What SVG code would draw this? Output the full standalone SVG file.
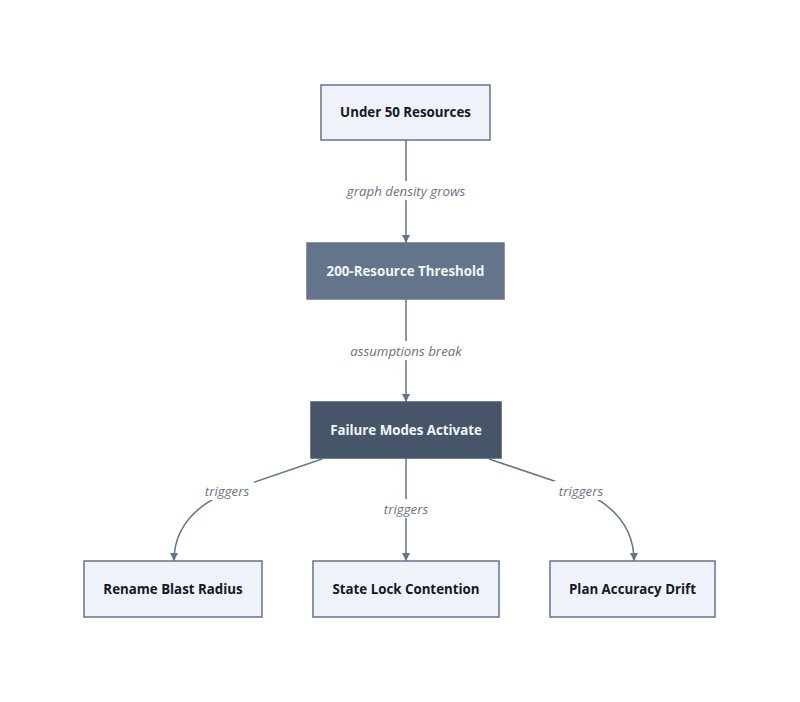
<svg xmlns="http://www.w3.org/2000/svg" width="800" height="702" viewBox="0 0 800 702">
<style>
.light rect{fill:#eff3f9;stroke:#64748b;stroke-width:1.5}
.mid rect{fill:#64748b;stroke:#64748b;stroke-width:1.5}
.dark rect{fill:#475569;stroke:#475569;stroke-width:1.5}
.node text{font-family:"Open Sans","DejaVu Sans",sans-serif;font-size:13.3px;font-weight:bold;text-anchor:middle;dominant-baseline:central}
.light text{fill:#111827}
.mid text,.dark text{fill:#f1f5f9}
.edge{fill:none;stroke:#64748b;stroke-width:1.5;marker-end:url(#ah)}
.lbl rect{fill:#ffffff}
.lbl text{font-family:"Open Sans","DejaVu Sans",sans-serif;font-size:13.3px;font-style:italic;fill:#6b7280;text-anchor:middle;dominant-baseline:central}
</style>
<defs>
<marker id="ah" viewBox="0 0 10 10" refX="10" refY="5" markerWidth="8" markerHeight="8" markerUnits="userSpaceOnUse" orient="auto">
<path d="M0,0 L10,5 L0,10 z" fill="#64748b"/>
</marker>
</defs>
<rect width="800" height="702" fill="#ffffff"/>
<g id="connectors">
<path class="edge" d="M406,140 L406,243"/>
<path class="edge" d="M406,299 L406,402"/>
<path class="edge" d="M406,458 L406,561"/>
<path class="edge" d="M322,459 L240,487 Q174,510 174,561"/>
<path class="edge" d="M489,459 L572,487 Q634,510 634,561"/>
<g class="lbl">
<rect x="343" y="181" width="126" height="19"/><text x="406" y="190.5">graph density grows</text>
<rect x="346" y="341" width="120" height="19"/><text x="406" y="350.5">assumptions break</text>
<rect x="200" y="481" width="54" height="19"/><text x="227" y="490.5">triggers</text>
<rect x="379" y="499" width="54" height="19"/><text x="406" y="508.5">triggers</text>
<rect x="554" y="481" width="54" height="19"/><text x="581" y="490.5">triggers</text>
</g>
</g>
<g id="n1" class="node light"><rect x="321" y="85" width="169" height="55"/><text x="405.5" y="112">Under 50 Resources</text></g>
<g id="n2" class="node mid"><rect x="307" y="243" width="197" height="56"/><text x="405.5" y="270.5">200-Resource Threshold</text></g>
<g id="n3" class="node dark"><rect x="311" y="402" width="190" height="56"/><text x="406" y="429.5">Failure Modes Activate</text></g>
<g id="n4" class="node light"><rect x="84" y="561" width="178" height="56"/><text x="173" y="588.5">Rename Blast Radius</text></g>
<g id="n5" class="node light"><rect x="313" y="561" width="186" height="56"/><text x="406" y="588.5">State Lock Contention</text></g>
<g id="n6" class="node light"><rect x="550" y="561" width="165" height="56"/><text x="632.5" y="588.5">Plan Accuracy Drift</text></g>
</svg>
